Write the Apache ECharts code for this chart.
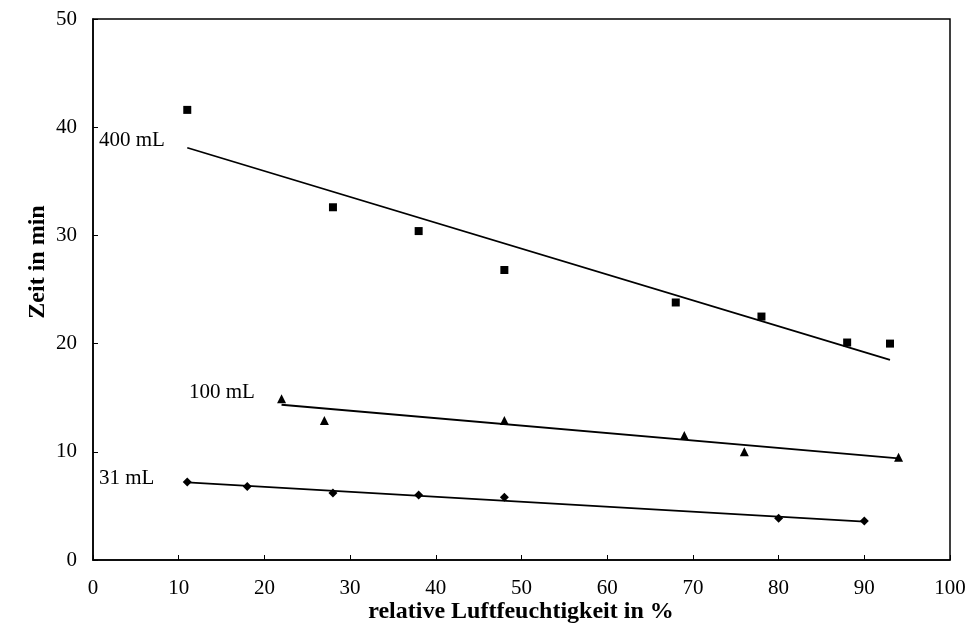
<!DOCTYPE html>
<html><head><meta charset="utf-8">
<script src="https://cdn.jsdelivr.net/npm/echarts@6/dist/echarts.min.js"></script>
<style>html,body{margin:0;padding:0;background:#fff}#c{width:973px;height:638px}</style>
</head><body><div id="c"></div>
<script>
// Data
const x400 = [11, 28, 38, 48, 68, 78, 88, 93];
const y400 = [41.6, 32.6, 30.4, 26.8, 23.8, 22.5, 20.1, 20.0];
const x100 = [22, 27, 48, 69, 76, 94];
const y100 = [14.9, 12.9, 12.9, 11.5, 10.0, 9.5];
const x31 = [11, 18, 28, 38, 48, 80, 90];
const y31 = [7.2, 6.8, 6.2, 6.0, 5.8, 3.85, 3.6];
// trend lines (end points)
const trend400 = [[11, 38.1], [93, 18.5]];
const trend100 = [[22, 14.35], [94, 9.4]];
const trend31 = [[11, 7.18], [90, 3.54]];
const seriesLabels = ['400 mL', '100 mL', '31 mL'];
const xTitle = 'relative Luftfeuchtigkeit in %';
const yTitle = 'Zeit in min';

const zip = (xs, ys) => xs.map((v, i) => [v, ys[i]]);
const font = 'Liberation Serif, Times New Roman, serif';
const chart = echarts.init(document.getElementById('c'));
const axisCommon = {
  axisLine: { show: true, onZero: false, lineStyle: { color: '#000', width: 1.5 } },
  axisTick: { show: true, inside: true, length: 5, lineStyle: { color: '#000', width: 1 } },
  splitLine: { show: false },
  axisLabel: { color: '#000', fontFamily: font, fontSize: 21 }
};
const sc = (d, sym, size) => ({ type: 'scatter', data: d, symbol: sym, symbolSize: size,
  itemStyle: { color: '#000', opacity: 1 }, z: 3, animation: false });
const ln = (d) => ({ type: 'line', data: d, symbol: 'none', lineStyle: { color: '#000', width: 1.8 }, animation: false });
chart.setOption({
  backgroundColor: '#fff',
  animation: false,
  grid: { left: 93, right: 23, top: 19, bottom: 78, show: true, borderColor: '#000', borderWidth: 1.5 },
  xAxis: Object.assign({ type: 'value', min: 0, max: 100, interval: 10 }, axisCommon,
    { axisLabel: Object.assign({}, axisCommon.axisLabel, { margin: 18 }) }),
  yAxis: Object.assign({ type: 'value', min: 0, max: 50, interval: 10 }, axisCommon,
    { axisLabel: Object.assign({}, axisCommon.axisLabel, { margin: 16 }) }),
  series: [
    sc(zip(x400, y400), 'rect', 8),
    sc(zip(x100, y100), 'triangle', 9),
    sc(zip(x31, y31), 'diamond', 9),
    ln(trend400), ln(trend100), ln(trend31)
  ],
  graphic: [
    { type: 'text', x: 99, y: 140, style: { text: seriesLabels[0], font: '21px ' + font, fill: '#000', verticalAlign: 'middle' } },
    { type: 'text', x: 189, y: 392, style: { text: seriesLabels[1], font: '21px ' + font, fill: '#000', verticalAlign: 'middle' } },
    { type: 'text', x: 99, y: 478, style: { text: seriesLabels[2], font: '21px ' + font, fill: '#000', verticalAlign: 'middle' } },
    { type: 'text', x: 521, y: 612, style: { text: xTitle, font: 'bold 24px ' + font, fill: '#000', align: 'center', verticalAlign: 'middle' } },
    { type: 'text', x: 38, y: 262, rotation: Math.PI / 2, style: { text: yTitle, font: 'bold 24px ' + font, fill: '#000', align: 'center', verticalAlign: 'middle' } }
  ]
});
</script></body></html>
